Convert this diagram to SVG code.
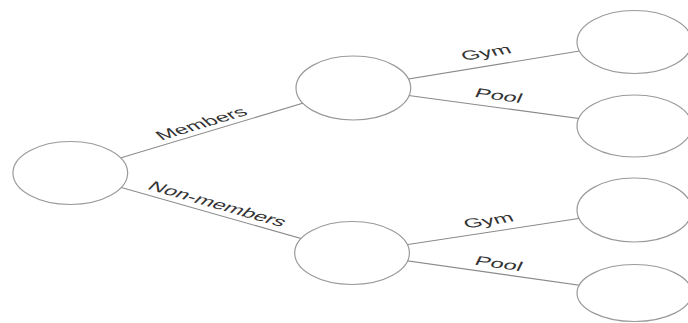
<svg xmlns="http://www.w3.org/2000/svg" width="688" height="323" viewBox="0 0 688 323">
<style>
.n{fill:#fff;stroke:#9a9a9a;stroke-width:1.2;vector-effect:non-scaling-stroke}
.c{stroke:#8a8a8a;stroke-width:1.1;fill:none;vector-effect:non-scaling-stroke}
.t{font-family:"Liberation Sans",Arial,sans-serif;font-size:13px;fill:#333;text-anchor:middle}
</style>
<rect width="688" height="323" fill="#fff"/>
<g transform="scale(1.85,1)">
<g id="connectors">
<line class="c" x1="38" y1="173" x2="191" y2="88"/>
<line class="c" x1="38" y1="173" x2="190.3" y2="253"/>
<line class="c" x1="191" y1="88" x2="342.9" y2="42"/>
<line class="c" x1="191" y1="88" x2="342.9" y2="126"/>
<line class="c" x1="190.3" y1="253" x2="342.9" y2="210"/>
<line class="c" x1="190.3" y1="253" x2="342.9" y2="293"/>
<text class="t" transform="translate(108.8,123.5) rotate(-29)" y="4.5">Members</text>
<text class="t" transform="translate(117.6,204) rotate(27.7)" y="4.5">Non-members</text>
<text class="t" transform="translate(262.7,52.5) rotate(-16.8)" y="4.5">Gym</text>
<text class="t" transform="translate(269.7,95.5) rotate(14)" y="4.5">Pool</text>
<text class="t" transform="translate(264,220.5) rotate(-15.7)" y="4.5">Gym</text>
<text class="t" transform="translate(269.7,263.5) rotate(14.7)" y="4.5">Pool</text>
</g>
<g id="root"><ellipse class="n" cx="38" cy="173" rx="31" ry="31.5"/></g>
<g id="members"><ellipse class="n" cx="191" cy="88" rx="31" ry="32"/></g>
<g id="nonmembers"><ellipse class="n" cx="190.3" cy="253" rx="31" ry="31.5"/></g>
<g id="members-gym"><ellipse class="n" cx="342.9" cy="42" rx="31" ry="31.5"/></g>
<g id="members-pool"><ellipse class="n" cx="342.9" cy="126" rx="31" ry="31"/></g>
<g id="nonmembers-gym"><ellipse class="n" cx="342.9" cy="210" rx="31" ry="32"/></g>
<g id="nonmembers-pool"><ellipse class="n" cx="342.9" cy="293" rx="31" ry="28.5"/></g>
</g>
</svg>
